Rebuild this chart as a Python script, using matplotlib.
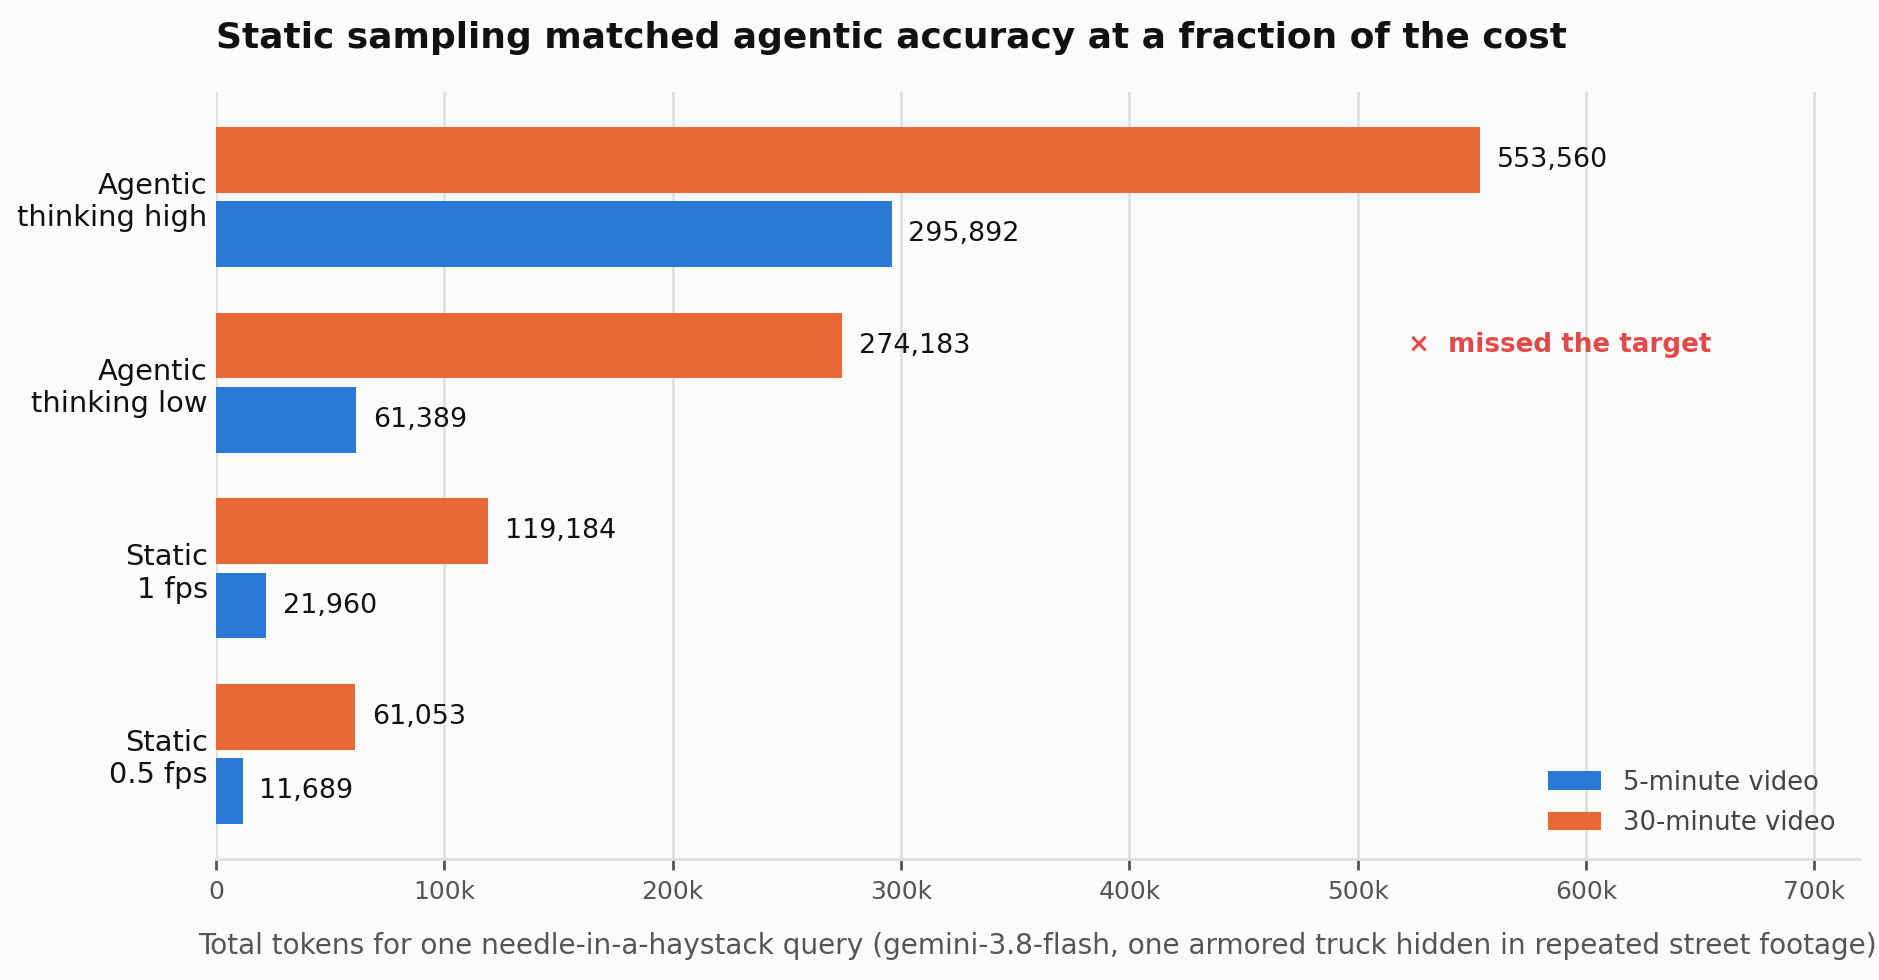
import matplotlib.pyplot as plt
from matplotlib.ticker import FuncFormatter
import numpy as np

# data
categories = ["Agentic\nthinking high", "Agentic\nthinking low", "Static\n1 fps", "Static\n0.5 fps"]
tokens_5min = [295892, 61389, 21960, 11689]
tokens_30min = [553560, 274183, 119184, 61053]
series_names = ["5-minute video", "30-minute video"]
missed_index = 1  # agentic thinking low, 30-minute video
x_ticks = [0, 100000, 200000, 300000, 400000, 500000, 600000, 700000]

BLUE = "#2A79D6"
ORANGE = "#E96835"
RED = "#E24A4A"
BG = "#FBFBF9"

plt.rcParams["font.family"] = "DejaVu Sans"

fig = plt.figure(figsize=(9.395, 4.9), dpi=200, facecolor=BG)
ax = fig.add_axes([216 / 1879, 1 - 859 / 980, (1859 - 216) / 1879, (859 - 92) / 980])
ax.set_facecolor(BG)

n = len(categories)
y = np.arange(n)[::-1].astype(float)
h = 0.355
off = 0.2

b5 = ax.barh(y - off, tokens_5min, height=h, color=BLUE, label=series_names[0], zorder=3)
b30 = ax.barh(y + off, tokens_30min, height=h, color=ORANGE, label=series_names[1], zorder=3)

for bars, vals in ((b5, tokens_5min), (b30, tokens_30min)):
    for bar, v in zip(bars, vals):
        ax.annotate(f"{v:,}", (v, bar.get_y() + bar.get_height() / 2),
                    xytext=(6, 0), textcoords="offset points",
                    ha="left", va="center", fontsize=9.7, color="#111111")

# missed-the-target marker
ax.text(522000, y[missed_index] + off, "\u00d7  missed the target", ha="left", va="center",
        fontsize=9.4, fontweight="bold", color=RED)

ax.set_yticks(y)
ax.set_yticklabels(categories, fontsize=10.4, color="#111111")
ax.tick_params(axis="y", length=0, pad=3)
ax.set_xticks(x_ticks)
ax.xaxis.set_major_formatter(FuncFormatter(lambda v, p: "0" if v == 0 else f"{int(v / 1000)}k"))
ax.tick_params(axis="x", labelsize=9, colors="#555555", length=4, width=1, color="#555555")
for lbl in ax.get_xticklabels():
    lbl.set_color("#555555")

ax.set_xlim(0, 719500)
ax.set_ylim(-0.565, 3.565)

ax.grid(axis="x", color="#E0E0E0", linewidth=1.0, zorder=0)
ax.set_axisbelow(True)
for s in ("top", "right", "left"):
    ax.spines[s].set_visible(False)
ax.spines["bottom"].set_color("#E0E0E0")
ax.spines["bottom"].set_linewidth(1.0)

ax.set_xlabel("Total tokens for one needle-in-a-haystack query (gemini-3.8-flash, one armored truck hidden in repeated street footage)",
              fontsize=10.1, color="#555555", labelpad=10)
ax.set_title("Static sampling matched agentic accuracy at a fraction of the cost",
             loc="left", fontsize=12.95, fontweight="bold", color="#111111", pad=16)

leg = ax.legend(loc="lower right", frameon=False, fontsize=9.3, handlelength=2.05,
                handleheight=0.7, handletextpad=0.85, labelspacing=0.55,
                borderaxespad=0.5, bbox_to_anchor=(1.0, 0.0))
for t in leg.get_texts():
    t.set_color("#444444")

fig.savefig("out.png", dpi=200, facecolor=BG)
